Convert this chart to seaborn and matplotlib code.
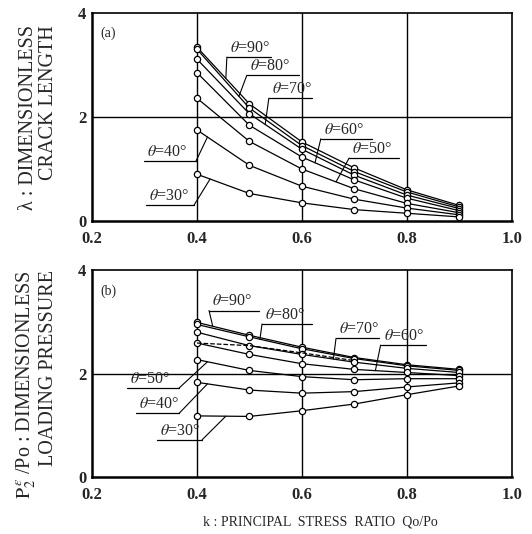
import matplotlib
matplotlib.use("Agg")
import matplotlib.pyplot as plt
import seaborn as sns
import numpy as np
import pandas as pd

# principal stress ratio k = Qo/Po
k = [0.4, 0.5, 0.6, 0.7, 0.8, 0.9]
thetas = [90, 80, 70, 60, 50, 40, 30]

# (a) dimensionless crack length
crack = {
    90: [3.34, 2.25, 1.52, 1.02, 0.60, 0.30],
    80: [3.30, 2.17, 1.45, 0.95, 0.56, 0.27],
    70: [3.11, 2.06, 1.38, 0.88, 0.50, 0.24],
    60: [2.85, 1.84, 1.23, 0.79, 0.44, 0.20],
    50: [2.36, 1.53, 1.00, 0.62, 0.34, 0.16],
    40: [1.75, 1.07, 0.67, 0.42, 0.25, 0.12],
    30: [0.90, 0.53, 0.35, 0.22, 0.15, 0.08],
}

# (b) dimensionless loading pressure
pressure = {
    90: [2.99, 2.74, 2.51, 2.31, 2.17, 2.08],
    80: [2.95, 2.71, 2.48, 2.29, 2.15, 2.06],
    70: [2.80, 2.54, 2.37, 2.22, 2.10, 2.02],
    60: [2.59, 2.37, 2.19, 2.08, 2.02, 1.96],
    50: [2.27, 2.06, 1.94, 1.88, 1.90, 1.90],
    40: [1.83, 1.68, 1.62, 1.65, 1.74, 1.82],
    30: [1.18, 1.17, 1.28, 1.41, 1.59, 1.76],
}
dashed_k = [0.4, 0.5, 0.6, 0.7]
dashed_p = [2.59, 2.54, 2.40, 2.25]

# label placement: theta, underline left k, right k, underline y, leader side, k where leader meets curve
labels_a = [
    (90, 0.457, 0.541, 3.15, "left", 0.455),
    (80, 0.495, 0.594, 2.80, "left", 0.48),
    (70, 0.537, 0.619, 2.36, "left", 0.53),
    (60, 0.636, 0.733, 1.58, "left", 0.625),
    (50, 0.690, 0.785, 1.21, "left", 0.665),
    (40, 0.299, 0.398, 1.15, "right", 0.42),
    (30, 0.303, 0.394, 0.30, "right", 0.425),
]
labels_b = [
    (90, 0.423, 0.518, 3.22, "left", 0.43),
    (80, 0.524, 0.619, 2.96, "left", 0.52),
    (70, 0.665, 0.747, 2.68, "left", 0.66),
    (60, 0.750, 0.836, 2.55, "left", 0.74),
    (50, 0.267, 0.366, 1.72, "right", 0.42),
    (40, 0.284, 0.366, 1.23, "right", 0.42),
    (30, 0.324, 0.410, 0.72, "right", 0.455),
]

sns.set_style("white")
plt.rcParams["font.family"] = ["Liberation Serif", "DejaVu Serif"]
plt.rcParams["mathtext.fontset"] = "stix"

fig = plt.figure(figsize=(5.32, 5.34), dpi=100)
ax_a = fig.add_axes([0.173, 0.586, 0.789, 0.390])
ax_b = fig.add_axes([0.173, 0.107, 0.789, 0.387])


def draw_panel(ax, series, labels, tag):
    for t in thetas:
        sns.lineplot(x=k, y=series[t], ax=ax, color="black", linewidth=0.9,
                     marker="o", markersize=4.5, markerfacecolor="white",
                     markeredgecolor="black", markeredgewidth=0.9)
    ax.set_xlim(0.2, 1.0)
    ax.set_ylim(0, 4)
    ax.set_xticks([0.2, 0.4, 0.6, 0.8, 1.0])
    ax.set_xticklabels(["0.2", "0.4", "0.6", "0.8", "1.0"])
    ax.set_yticks([0, 2, 4])
    ax.tick_params(axis="x", length=0, labelsize=12, pad=7)
    ax.tick_params(axis="y", length=0, labelsize=12, pad=4)
    for lab in ax.get_xticklabels() + ax.get_yticklabels():
        lab.set_fontweight("bold")
    for v in [0.4, 0.6, 0.8]:
        ax.axvline(v, color="black", linewidth=1.0, zorder=0)
    ax.axhline(2, color="black", linewidth=1.0, zorder=0)
    for sp in ax.spines.values():
        sp.set_color("black")
        sp.set_linewidth(1.2)
    ax.spines["left"].set_linewidth(1.8)
    ax.spines["bottom"].set_linewidth(1.8)
    ax.set_xlabel("")
    ax.set_ylabel("")
    ax.text(0.215, 3.6, tag, fontsize=10, va="center", ha="left")
    for t, kl, kr, uy, side, ke in labels:
        ax.plot([kl, kr], [uy, uy], color="black", linewidth=0.9)
        ye = np.interp(ke, k, series[t])
        xs = kl if side == "left" else kr
        ax.plot([xs, ke], [uy, ye], color="black", linewidth=0.8)
        ax.annotate(r"$\theta$=" + f"{t}°", xy=(kl + 0.006, uy), xytext=(0, 0.8),
                    textcoords="offset points", fontsize=11.5, va="bottom", ha="left")


draw_panel(ax_a, crack, labels_a, "(a)")
draw_panel(ax_b, pressure, labels_b, "(b)")
sns.lineplot(x=dashed_k, y=dashed_p, ax=ax_b, color="black", linewidth=0.9, linestyle="--")

fig.text(0.072, 1 - 25 / 534, "λ : DIMENSIONLESS\nCRACK LENGTH", rotation=90,
         ha="center", va="top", multialignment="right", fontsize=14.5, linespacing=1.1)
fig.text(0.068, 1 - 270 / 534, r"$\mathrm{P}_2^{\,\varepsilon}$ /Po : DIMENSIONLESS" + "\nLOADING PRESSURE",
         rotation=90, ha="center", va="top", multialignment="right", fontsize=14.5, linespacing=1.1)
fig.text(0.603, 1 - 522 / 534, "k : PRINCIPAL  STRESS  RATIO  Qo/Po", ha="center", va="center",
         fontsize=10)

fig.savefig("out.png", dpi=100, facecolor="white")
